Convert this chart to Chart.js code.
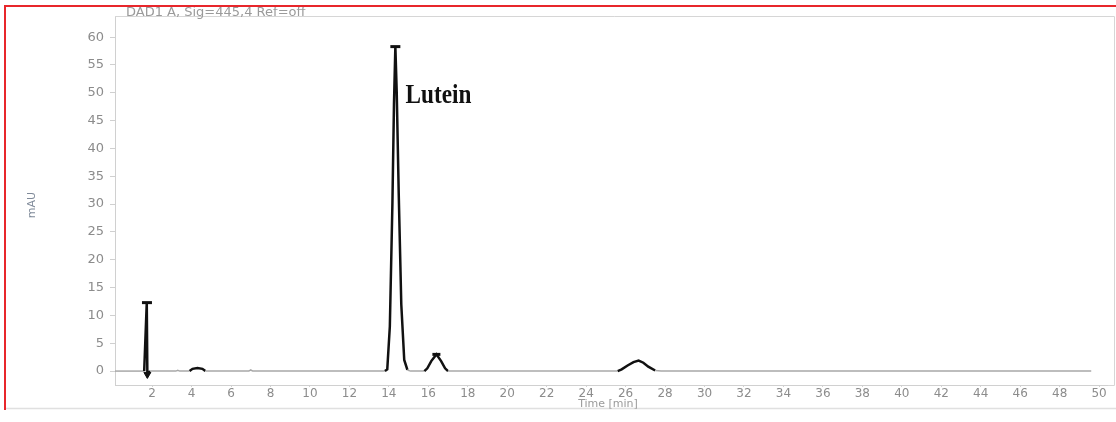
<!DOCTYPE html>
<html>
<head>
<meta charset="utf-8">
<script src="https://cdn.jsdelivr.net/npm/chart.js@4.4.1/dist/chart.umd.min.js"></script>
<style>
  html, body { margin: 0; padding: 0; background: #fff; }
  #wrap { position: relative; width: 1116px; height: 422px; }
</style>
</head>
<body>
<div id="wrap"><canvas id="chrom" width="1116" height="422"></canvas></div>
<script>
// retention time (min) and detector signal (mAU)
const times = [0.12, 1.6, 1.73, 1.76, 1.9, 3.2, 3.3, 3.4, 3.9, 4.05, 4.3, 4.55, 4.7, 6.9, 7.0, 7.1,
  13.8, 13.92, 14.05, 14.18, 14.26, 14.33, 14.4, 14.5, 14.63, 14.78, 14.94, 15.1,
  15.8, 15.95, 16.15, 16.41, 16.65, 16.85, 17.0,
  25.6, 25.8, 26.1, 26.4, 26.66, 26.9, 27.15, 27.5, 27.8, 49.6];
const signal = [0, 0, 12.3, -0.6, 0, 0, 0.15, 0, 0, 0.4, 0.55, 0.4, 0, 0, 0.2, 0,
  0, 0.3, 8, 30, 48, 58.3, 50, 32, 12, 2, 0.2, 0,
  0, 0.5, 1.8, 3.0, 1.8, 0.5, 0,
  0, 0.3, 1.0, 1.6, 1.9, 1.5, 0.8, 0.1, 0, 0];

// peak apex marks
const capTimes = [1.74, 14.33, 16.41];
const capValues = [12.3, 58.3, 3.0];

const xTicks = [2, 4, 6, 8, 10, 12, 14, 16, 18, 20, 22, 24, 26, 28, 30, 32, 34, 36, 38, 40, 42, 44, 46, 48, 50];
const yTicks = [0, 5, 10, 15, 20, 25, 30, 35, 40, 45, 50, 55, 60];

const tickFont = { family: 'DejaVu Sans', size: 13 };
const gray = '#8c8c8c';

const framePlugin = {
  id: 'frame',
  beforeDraw(chart) {
    const c = chart.ctx;
    c.save();
    c.fillStyle = '#fff';
    c.fillRect(0, 0, chart.width, chart.height);
    // sheet line under the plot
    c.strokeStyle = '#e0e0e0';
    c.lineWidth = 1.5;
    c.beginPath();
    c.moveTo(5, 408.5); c.lineTo(1116, 408.5);
    c.stroke();
    c.restore();
  },
  afterDraw(chart) {
    const c = chart.ctx;
    const a = chart.chartArea;
    const x = chart.scales.x, y = chart.scales.y;
    c.save();
    // plot frame top, right and the rest of the bottom
    c.strokeStyle = '#d6d6d6';
    c.lineWidth = 1;
    c.beginPath();
    c.moveTo(a.left, a.top + 0.5); c.lineTo(1114.5, a.top + 0.5); c.lineTo(1114.5, a.bottom + 0.5);
    c.lineTo(a.right, a.bottom + 0.5);
    c.stroke();

    // header
    c.fillStyle = '#9a9a9a';
    c.font = '13px "DejaVu Sans"';
    c.textBaseline = 'alphabetic';
    c.fillText('DAD1 A, Sig=445,4 Ref=off', 126, 16);

    // y title
    c.save();
    c.translate(32, 205);
    c.rotate(-Math.PI / 2);
    c.textAlign = 'center';
    c.textBaseline = 'middle';
    c.font = '11px "DejaVu Sans"';
    c.fillStyle = '#7f8a99';
    c.fillText('mAU', 0, 0);
    c.restore();

    // x title
    c.textAlign = 'center';
    c.textBaseline = 'middle';
    c.font = '11px "DejaVu Sans"';
    c.fillStyle = '#9a9a9a';
    c.fillText('Time [min]', 608, 404);

    // peak label
    c.save();
    c.translate(x.getPixelForValue(14.85), y.getPixelForValue(49.5));
    c.scale(0.86, 1);
    c.textAlign = 'left';
    c.textBaseline = 'middle';
    c.font = 'bold 27px "Liberation Serif"';
    c.fillStyle = '#111';
    c.fillText('Lutein', 0, 0);
    c.restore();

    // red sheet border
    c.strokeStyle = '#e8262b';
    c.lineWidth = 2;
    c.beginPath();
    c.moveTo(5, 410); c.lineTo(5, 6); c.lineTo(1116, 6);
    c.stroke();
    c.restore();
  }
};

const trace = times.map((t, i) => ({ x: t, y: signal[i] }));
const caps = capTimes.map((t, i) => ({ x: t, y: capValues[i] }));

const isBase = ctx => Math.abs(ctx.p0.parsed.y) < 0.25 && Math.abs(ctx.p1.parsed.y) < 0.25;

new Chart(document.getElementById('chrom'), {
  type: 'line',
  data: {
    datasets: [{
      data: trace,
      borderColor: '#111',
      borderWidth: 2.5,
      pointRadius: 0,
      tension: 0,
      segment: {
        borderColor: ctx => isBase(ctx) ? '#a8a8a8' : '#111',
        borderWidth: ctx => isBase(ctx) ? 1.5 : 2.5
      }
    }, {
      data: caps,
      showLine: false,
      pointStyle: 'line',
      pointRadius: [5, 5, 4],
      borderColor: '#111',
      borderWidth: 3
    }, {
      data: [{ x: 1.76, y: -0.6 }],
      showLine: false,
      pointStyle: 'triangle',
      rotation: 180,
      pointRadius: 4,
      backgroundColor: '#111',
      borderColor: '#111'
    }]
  },
  plugins: [framePlugin],
  options: {
    responsive: false,
    animation: false,
    layout: { padding: { top: 16, right: 1, left: 0, bottom: 0 } },
    plugins: { legend: { display: false }, tooltip: { enabled: false } },
    scales: {
      x: {
        type: 'linear',
        min: 0.12,
        max: 50.45,
        afterBuildTicks: s => { s.ticks = xTicks.map(v => ({ value: v })); },
        afterFit: s => { s.height = 37; },
        grid: { drawOnChartArea: false, tickLength: 2, color: '#d0d0d0' },
        border: { color: '#d0d0d0' },
        ticks: { font: { family: 'DejaVu Sans', size: 12 }, color: gray, padding: 0, maxRotation: 0, autoSkip: false }
      },
      y: {
        min: -2.5,
        max: 63.8,
        afterBuildTicks: s => { s.ticks = yTicks.map(v => ({ value: v })); },
        afterFit: s => { s.width = 115; },
        grid: { drawOnChartArea: false, tickLength: 5, color: '#d0d0d0' },
        border: { color: '#d0d0d0' },
        ticks: { font: tickFont, color: gray, padding: 6 }
      }
    }
  }
});
</script>
</body>
</html>
